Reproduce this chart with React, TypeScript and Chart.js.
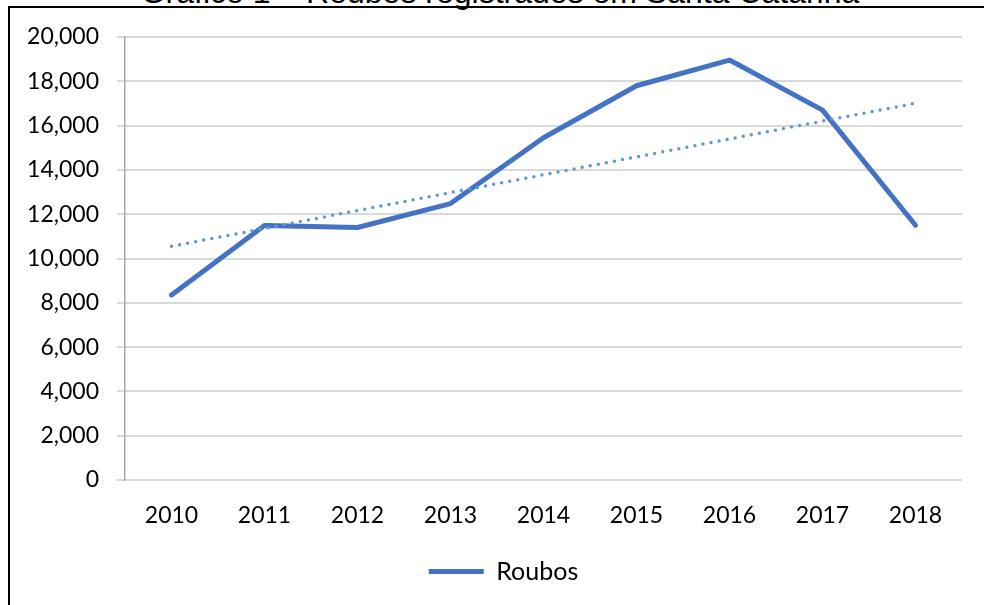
import React, { useEffect, useRef } from "react";
import { Chart, registerables } from "chart.js";

Chart.register(...registerables);

const years = ["2010", "2011", "2012", "2013", "2014", "2015", "2016", "2017", "2018"];
const roubos = [8350, 11490, 11400, 12480, 15450, 17800, 18960, 16700, 11500];
const trendLine = [10550, null, null, null, null, null, null, null, 17010];
const seriesName = "Roubos";
const titleText = "Gráfico 1 – Roubos registrados em Santa Catarina";

const FONT = "Lato, 'Open Sans', sans-serif";

const legendShift = {
  id: "legendShift",
  afterLayout(chart: any) {
    const l = chart.legend;
    if (l) {
      l.left += 45;
    }
  },
};

export default function App() {
  const ref = useRef<HTMLCanvasElement | null>(null);

  useEffect(() => {
    if (!ref.current) return;
    const chart = new Chart(ref.current, {
      type: "line",
      plugins: [legendShift],
      data: {
        labels: years,
        datasets: [
          {
            label: seriesName,
            data: roubos,
            borderColor: "#4472C4",
            backgroundColor: "#4472C4",
            borderWidth: 5,
            pointRadius: 0,
            tension: 0,
            borderCapStyle: "round",
            borderJoinStyle: "round",
            order: 1,
          },
          {
            label: "Linear (Roubos)",
            data: trendLine,
            borderColor: "#5B9BD5",
            backgroundColor: "#5B9BD5",
            borderWidth: 3.5,
            borderDash: [0, 8.2],
            borderCapStyle: "round",
            pointRadius: 0,
            spanGaps: true,
            order: 0,
          },
        ],
      },
      options: {
        animation: false,
        responsive: false,
        maintainAspectRatio: false,
        layout: { padding: { left: 0, right: 22, top: 37, bottom: 11 } },
        plugins: {
          title: { display: false },
          tooltip: { enabled: false },
          legend: {
            display: true,
            position: "bottom",
            labels: {
              filter: (item) => item.datasetIndex === 0,
              usePointStyle: true,
              pointStyle: "line",
              pointStyleWidth: 55,
              color: "#000",
              font: { family: FONT, size: 25 },
              padding: 10,
            },
          },
        },
        scales: {
          x: {
            offset: true,
            grid: { display: false, drawTicks: false },
            border: { display: false },
            ticks: {
              color: "#000",
              font: { family: FONT, size: 23 },
              padding: 22,
              maxRotation: 0,
            },
            afterFit: (s: any) => {
              s.height = 69;
            },
          },
          y: {
            min: 0,
            max: 20000,
            ticks: {
              stepSize: 2000,
              color: "#000",
              font: { family: FONT, size: 23 },
              padding: 18,
              callback: (v: any) => Number(v).toLocaleString("en-US"),
            },
            grid: {
              color: "#d9d9d9",
              lineWidth: 2,
              tickLength: 8,
              tickColor: "#d9d9d9",
            },
            border: { display: true, color: "#a6a6a6", width: 1.5 },
            afterFit: (s: any) => {
              s.width = 125;
            },
          },
        },
      },
    });
    return () => chart.destroy();
  }, []);

  return (
    <div style={{ position: "fixed", left: 0, top: 0, width: 984, height: 605, overflow: "hidden", background: "#fff" }}>
      <div
        style={{
          position: "absolute",
          left: 8,
          top: 6,
          width: 1200,
          height: 800,
          borderLeft: "2px solid #000",
          borderTop: "2px solid #000",
        }}
      />
      <div
        style={{
          position: "absolute",
          left: 8,
          top: -24,
          width: 984,
          textAlign: "center",
          fontFamily: "'Liberation Sans', Arial, sans-serif",
          fontSize: 32,
          lineHeight: "32px",
          color: "#000",
          whiteSpace: "nowrap",
        }}
      >
        {titleText}
      </div>
      <canvas ref={ref} width={984} height={605} style={{ position: "absolute", left: 0, top: 0 }} />
    </div>
  );
}
